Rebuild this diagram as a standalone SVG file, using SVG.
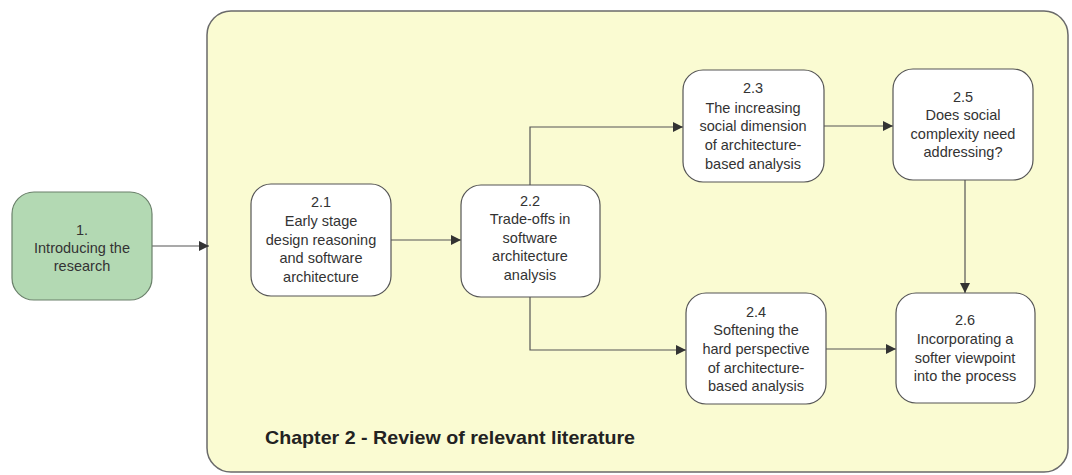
<svg xmlns="http://www.w3.org/2000/svg" width="1072" height="475" viewBox="0 0 1072 475">
  <defs>
    <style>
      .frame { fill: #fafbd2; stroke: #6a6a6a; stroke-width: 1.5; }
      .box { fill: #ffffff; stroke: #555555; stroke-width: 1.2; }
      .start { fill: #b3d9b3; stroke: #6a806a; stroke-width: 1.2; }
      .lbl { font-family: "Liberation Sans", Arial, sans-serif; font-size: 14.5px; fill: #333333; text-anchor: middle; }
      .title { font-family: "Liberation Sans", Arial, sans-serif; font-size: 18.5px; font-weight: bold; fill: #222222; }
      .link { fill: none; stroke: #555555; stroke-width: 1.2; marker-end: url(#arrow); }
    </style>
    <marker id="arrow" viewBox="0 0 10 10" refX="10" refY="5" markerWidth="10" markerHeight="10" markerUnits="userSpaceOnUse" orient="auto">
      <path d="M0,0 L10,5 L0,10 z" fill="#333333"/>
    </marker>
  </defs>

  <rect width="1072" height="475" fill="#ffffff"/>

  <!-- chapter frame -->
  <g id="chapter2">
    <rect class="frame" x="207" y="11" width="861" height="461" rx="24" ry="24"/>
    <text class="title" x="265" y="444" textLength="370" lengthAdjust="spacingAndGlyphs">Chapter 2 - Review of relevant literature</text>
  </g>

  <!-- connectors -->
  <g id="connectors">
    <path class="link" d="M152,246 H209"/>
    <path class="link" d="M391,240 H461"/>
    <path class="link" d="M530,185 V127 H683"/>
    <path class="link" d="M530,297 V350 H686"/>
    <path class="link" d="M824,126 H893"/>
    <path class="link" d="M826,349 H896"/>
    <path class="link" d="M965,180 V293"/>
  </g>

  <g id="n1">
    <rect class="start" x="12" y="192" width="140" height="108" rx="22" ry="22"/>
    <text class="lbl"><tspan x="82" y="235">1.</tspan><tspan x="82" y="253">Introducing the</tspan><tspan x="82" y="271">research</tspan></text>
  </g>

  <g id="n2_1">
    <rect class="box" x="251" y="184" width="140" height="112" rx="20" ry="20"/>
    <text class="lbl"><tspan x="321" y="207">2.1</tspan><tspan x="321" y="226">Early stage</tspan><tspan x="321" y="245">design reasoning</tspan><tspan x="321" y="263">and software</tspan><tspan x="321" y="282">architecture</tspan></text>
  </g>

  <g id="n2_2">
    <rect class="box" x="461" y="185" width="139" height="112" rx="20" ry="20"/>
    <text class="lbl"><tspan x="530" y="206">2.2</tspan><tspan x="530" y="224">Trade-offs in</tspan><tspan x="530" y="243">software</tspan><tspan x="530" y="261">architecture</tspan><tspan x="530" y="280">analysis</tspan></text>
  </g>

  <g id="n2_3">
    <rect class="box" x="683" y="70" width="141" height="112" rx="20" ry="20"/>
    <text class="lbl"><tspan x="753" y="93">2.3</tspan><tspan x="753" y="113">The increasing</tspan><tspan x="753" y="131">social dimension</tspan><tspan x="753" y="150">of architecture-</tspan><tspan x="753" y="169">based analysis</tspan></text>
  </g>

  <g id="n2_4">
    <rect class="box" x="686" y="293" width="140" height="111" rx="20" ry="20"/>
    <text class="lbl"><tspan x="756" y="317">2.4</tspan><tspan x="756" y="335">Softening the</tspan><tspan x="756" y="354">hard perspective</tspan><tspan x="756" y="373">of architecture-</tspan><tspan x="756" y="391">based analysis</tspan></text>
  </g>

  <g id="n2_5">
    <rect class="box" x="893" y="69" width="140" height="111" rx="20" ry="20"/>
    <text class="lbl"><tspan x="963" y="102">2.5</tspan><tspan x="963" y="120">Does social</tspan><tspan x="963" y="139">complexity need</tspan><tspan x="963" y="157">addressing?</tspan></text>
  </g>

  <g id="n2_6">
    <rect class="box" x="896" y="293" width="139" height="110" rx="20" ry="20"/>
    <text class="lbl"><tspan x="965" y="325">2.6</tspan><tspan x="965" y="344">Incorporating a</tspan><tspan x="965" y="363">softer viewpoint</tspan><tspan x="965" y="381">into the process</tspan></text>
  </g>
</svg>
